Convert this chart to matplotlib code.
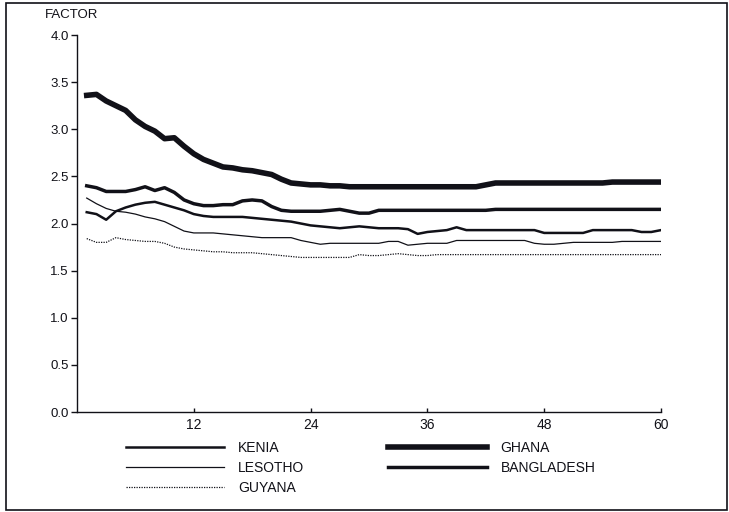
# plot.py
# Factor by month for five countries, scanned-report style

import matplotlib.pyplot as plt
from matplotlib.patches import Rectangle

plt.rcParams["font.family"] = ["Liberation Sans", "DejaVu Sans"]

# -----------------------------
# Data
# -----------------------------
months = list(range(1, 61))

ghana = [3.36, 3.37, 3.30, 3.25, 3.20, 3.10, 3.03, 2.98, 2.90, 2.91,
         2.82, 2.74, 2.68, 2.64, 2.60, 2.59, 2.57, 2.56, 2.54, 2.52,
         2.47, 2.43, 2.42, 2.41, 2.41, 2.40, 2.40, 2.39, 2.39, 2.39,
         2.39, 2.39, 2.39, 2.39, 2.39, 2.39, 2.39, 2.39, 2.39, 2.39,
         2.39, 2.41, 2.43, 2.43, 2.43, 2.43, 2.43, 2.43, 2.43, 2.43,
         2.43, 2.43, 2.43, 2.43, 2.44, 2.44, 2.44, 2.44, 2.44, 2.44]

bangladesh = [2.40, 2.38, 2.34, 2.34, 2.34, 2.36, 2.39, 2.35, 2.38, 2.33,
              2.25, 2.21, 2.19, 2.19, 2.20, 2.20, 2.24, 2.25, 2.24, 2.18,
              2.14, 2.13, 2.13, 2.13, 2.13, 2.14, 2.15, 2.13, 2.11, 2.11,
              2.14, 2.14, 2.14, 2.14, 2.14, 2.14, 2.14, 2.14, 2.14, 2.14,
              2.14, 2.14, 2.15, 2.15, 2.15, 2.15, 2.15, 2.15, 2.15, 2.15,
              2.15, 2.15, 2.15, 2.15, 2.15, 2.15, 2.15, 2.15, 2.15, 2.15]

kenia = [2.12, 2.10, 2.04, 2.13, 2.17, 2.20, 2.22, 2.23, 2.20, 2.17,
         2.14, 2.10, 2.08, 2.07, 2.07, 2.07, 2.07, 2.06, 2.05, 2.04,
         2.03, 2.02, 2.00, 1.98, 1.97, 1.96, 1.95, 1.96, 1.97, 1.96,
         1.95, 1.95, 1.95, 1.94, 1.89, 1.91, 1.92, 1.93, 1.96, 1.93,
         1.93, 1.93, 1.93, 1.93, 1.93, 1.93, 1.93, 1.90, 1.90, 1.90,
         1.90, 1.90, 1.93, 1.93, 1.93, 1.93, 1.93, 1.91, 1.91, 1.93]

lesotho = [2.27, 2.21, 2.16, 2.13, 2.12, 2.10, 2.07, 2.05, 2.02, 1.97,
           1.92, 1.90, 1.90, 1.90, 1.89, 1.88, 1.87, 1.86, 1.85, 1.85,
           1.85, 1.85, 1.82, 1.80, 1.78, 1.79, 1.79, 1.79, 1.79, 1.79,
           1.79, 1.81, 1.81, 1.77, 1.78, 1.79, 1.79, 1.79, 1.82, 1.82,
           1.82, 1.82, 1.82, 1.82, 1.82, 1.82, 1.79, 1.78, 1.78, 1.79,
           1.80, 1.80, 1.80, 1.80, 1.80, 1.81, 1.81, 1.81, 1.81, 1.81]

guyana = [1.84, 1.80, 1.80, 1.85, 1.83, 1.82, 1.81, 1.81, 1.79, 1.75,
          1.73, 1.72, 1.71, 1.70, 1.70, 1.69, 1.69, 1.69, 1.68, 1.67,
          1.66, 1.65, 1.64, 1.64, 1.64, 1.64, 1.64, 1.64, 1.67, 1.66,
          1.66, 1.67, 1.68, 1.67, 1.66, 1.66, 1.67, 1.67, 1.67, 1.67,
          1.67, 1.67, 1.67, 1.67, 1.67, 1.67, 1.67, 1.67, 1.67, 1.67,
          1.67, 1.67, 1.67, 1.67, 1.67, 1.67, 1.67, 1.67, 1.67, 1.67]

x_ticks = [12, 24, 36, 48, 60]
y_ticks = [0.0, 0.5, 1.0, 1.5, 2.0, 2.5, 3.0, 3.5, 4.0]

INK = "#111118"

# -----------------------------
# Plot
# -----------------------------
fig = plt.figure(figsize=(7.29, 5.12), dpi=100)
ax = fig.add_axes([0.1056, 0.1953, 0.8011, 0.7363])

ax.plot(months, kenia, color=INK, lw=1.8, label="KENIA")
ax.plot(months, lesotho, color=INK, lw=0.9, label="LESOTHO")
ax.plot(months, guyana, color=INK, lw=0.9, linestyle=(0, (1, 1)), label="GUYANA")
ax.plot(months, ghana, color=INK, lw=4.0, label="GHANA")
ax.plot(months, bangladesh, color=INK, lw=2.5, label="BANGLADESH")

ax.set_xlim(0, 60)
ax.set_ylim(0, 4.0)
ax.set_xticks(x_ticks)
ax.set_yticks(y_ticks)
ax.set_yticklabels([f"{v:.1f}" for v in y_ticks])

for side in ["top", "right"]:
    ax.spines[side].set_visible(False)
for side in ["left", "bottom"]:
    ax.spines[side].set_color(INK)
    ax.spines[side].set_linewidth(1.0)

ax.tick_params(axis="x", direction="in", length=3, width=1, colors=INK,
               labelsize=10, pad=4)
ax.tick_params(axis="y", direction="out", length=4, width=1, colors=INK,
               labelsize=9.5, pad=2)

fig.text(0.062, 0.970, "FACTOR", fontsize=9.5, color=INK, va="center", ha="left")

ax.legend(ncol=2, frameon=False, fontsize=10, loc="upper left",
          bbox_to_anchor=(0.165, 0.150), bbox_transform=fig.transFigure,
          borderaxespad=0, handlelength=7.1, handletextpad=1.0,
          columnspacing=6.0, labelspacing=0.45, labelcolor=INK)

# border round the whole figure
fig.add_artist(Rectangle((0.008, 0.004), 0.989, 0.990, transform=fig.transFigure,
                         fill=False, edgecolor=INK, lw=1.2))

fig.savefig("out.png", dpi=100)
